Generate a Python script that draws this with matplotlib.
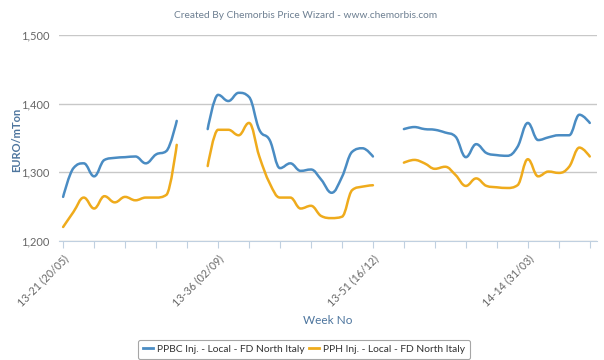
import matplotlib
matplotlib.use("Agg")
import matplotlib.pyplot as plt
from matplotlib.path import Path
from matplotlib.patches import PathPatch
from matplotlib.lines import Line2D
from matplotlib.ticker import FuncFormatter

plt.rcParams["font.family"] = ["Lato", "DejaVu Sans"]

# precios semanales (EUR/ton), None = semana sin dato
ppbc = [1264, 1306, 1313, 1294, 1318, 1321, 1322, 1323, 1313, 1326, 1331, 1375,
        None, None,
        1363, 1413, 1404, 1416, 1410, 1362, 1347, 1306, 1313, 1302, 1304, 1289,
        1270, 1293, 1330, 1335, 1323,
        None, None,
        1363, 1366, 1363, 1362, 1358, 1352, 1322, 1341, 1328, 1325, 1324, 1337,
        1372, 1347, 1351, 1354, 1354, 1384, 1372]
pph = [1220, 1242, 1263, 1247, 1265, 1256, 1264, 1259, 1263, 1263, 1267, 1340,
       None, None,
       1309, 1362, 1362, 1354, 1372, 1323, 1284, 1263, 1263, 1247, 1251, 1236,
       1233, 1235, 1274, 1279, 1281,
       None, None,
       1314, 1318, 1313, 1305, 1308, 1296, 1280, 1291, 1280, 1278, 1277, 1281,
       1319, 1294, 1301, 1299, 1308, 1336, 1323]

label_pos = [0, 15, 30, 45]
label_txt = ["13-21 (20/05)", "13-36 (02/09)", "13-51 (16/12)", "14-14 (31/03)"]

names = ["PPBC Inj. - Local - FD North Italy", "PPH Inj. - Local - FD North Italy"]
colors = ["#4a8cc3", "#efab1c"]


def spline_path(xs, ys, smoothing=1.5):
    # curva tipo "spline" de Highcharts
    verts = [(xs[0], ys[0])]
    codes = [Path.MOVETO]
    n = len(xs)
    ctrl = []
    for i in range(n):
        if i == 0 or i == n - 1:
            ctrl.append(((xs[i], ys[i]), (xs[i], ys[i])))
            continue
        d = smoothing + 1
        lx = (smoothing * xs[i] + xs[i - 1]) / d
        ly = (smoothing * ys[i] + ys[i - 1]) / d
        rx = (smoothing * xs[i] + xs[i + 1]) / d
        ry = (smoothing * ys[i] + ys[i + 1]) / d
        if rx != lx:
            corr = (ry - ly) * (rx - xs[i]) / (rx - lx) + ys[i] - ry
            ly += corr
            ry += corr
        if ly > ys[i - 1] and ly > ys[i]:
            ly = max(ys[i - 1], ys[i]); ry = 2 * ys[i] - ly
        elif ly < ys[i - 1] and ly < ys[i]:
            ly = min(ys[i - 1], ys[i]); ry = 2 * ys[i] - ly
        if ry > ys[i + 1] and ry > ys[i]:
            ry = max(ys[i + 1], ys[i]); ly = 2 * ys[i] - ry
        elif ry < ys[i + 1] and ry < ys[i]:
            ry = min(ys[i + 1], ys[i]); ly = 2 * ys[i] - ry
        ctrl.append(((lx, ly), (rx, ry)))
    for i in range(1, n):
        verts += [ctrl[i - 1][1], ctrl[i][0], (xs[i], ys[i])]
        codes += [Path.CURVE4] * 3
    return Path(verts, codes)


def segments(vals):
    segs, cur = [], []
    for i, v in enumerate(vals):
        if v is None:
            if cur:
                segs.append(cur)
            cur = []
        else:
            cur.append((i, v))
    if cur:
        segs.append(cur)
    return segs


fig = plt.figure(figsize=(6.04, 3.6), dpi=100)
ax = fig.add_axes([59 / 604, 1 - 240.7 / 360, 538 / 604, 205.4 / 360])

for vals, c in zip([ppbc, pph], colors):
    for seg in segments(vals):
        xs = [p[0] for p in seg]
        ys = [p[1] for p in seg]
        ax.add_patch(PathPatch(spline_path(xs, ys), fill=False, edgecolor=c,
                               lw=1.8, zorder=3, capstyle="round", joinstyle="round"))

ax.set_xlim(-0.4, 51.7)
ax.set_ylim(1200, 1500)
ax.set_yticks([1200, 1300, 1400, 1500])
ax.yaxis.set_major_formatter(FuncFormatter(lambda v, p: f"{int(v):,}"))
ax.grid(axis="y", color="#c8c8c8", lw=1)
ax.set_axisbelow(True)

ticks = list(range(0, 52, 3))
ax.set_xticks(ticks)
ax.set_xticklabels([label_txt[label_pos.index(t)] if t in label_pos else "" for t in ticks],
                   rotation=45, ha="right", rotation_mode="anchor")

for s in ["top", "right", "left"]:
    ax.spines[s].set_visible(False)
ax.spines["bottom"].set_color("#c0d0e0")
ax.tick_params(axis="x", length=5, color="#c0d0e0", labelsize=7.7, labelcolor="#666666", pad=4)
ax.tick_params(axis="y", length=0, labelsize=8, labelcolor="#666666", pad=7)

fig.text(17 / 604, 1 - 140 / 360, "EURO/mTon", color="#4d759e", fontsize=8,
         fontweight="bold", rotation=90, ha="center", va="center")
fig.text(328 / 604, 1 - 320 / 360, "Week No", color="#4d759e", fontsize=8.5,
         ha="center", va="center")
fig.text(0.506, 1 - 16 / 360, "Created By Chemorbis Price Wizard - www.chemorbis.com",
         color="#6d7f91", fontsize=7.3, ha="center", va="center")

handles = [Line2D([], [], color=c, lw=2) for c in colors]
leg = fig.legend(handles, names, loc="upper center", bbox_to_anchor=(0.503, 1 - 335 / 360),
                 ncol=2, frameon=True, fontsize=7.4, handlelength=1.0, handletextpad=0.4,
                 columnspacing=0.4, borderpad=0.45, fancybox=True)
leg.get_frame().set_edgecolor("#909090")
leg.get_frame().set_linewidth(0.8)
for t in leg.get_texts():
    t.set_color("#333333")

fig.savefig("out.png", dpi=100)
